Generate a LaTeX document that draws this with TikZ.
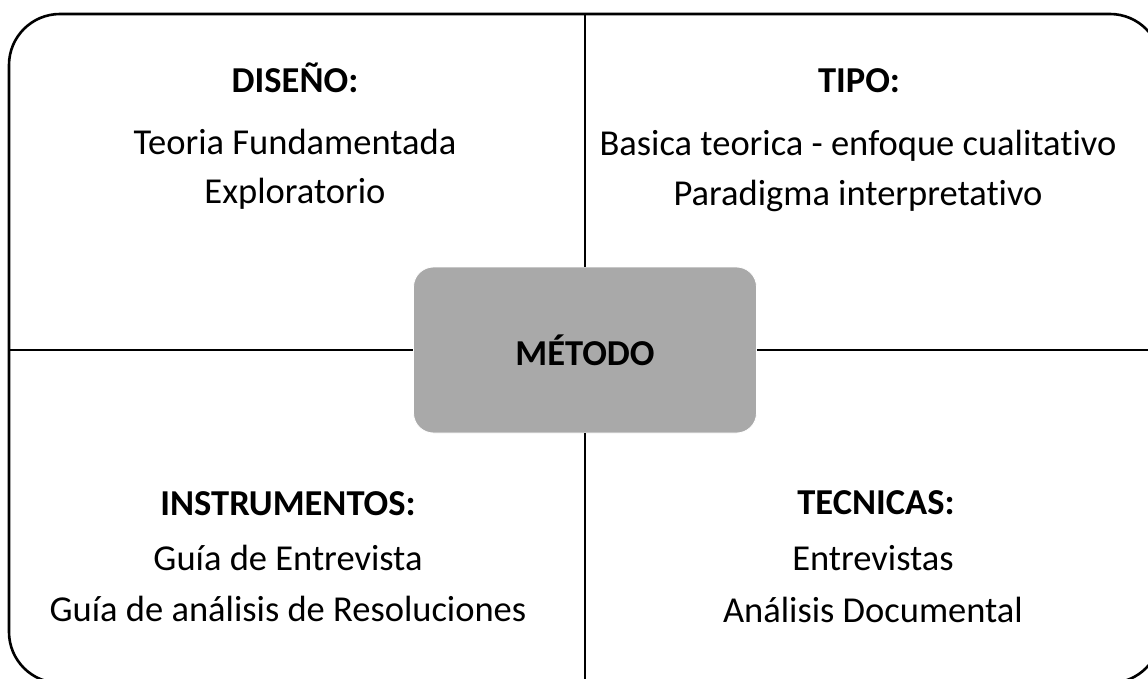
\documentclass[tikz,border=0pt]{standalone}
\usepackage{fontspec}
\setmainfont[Ligatures=NoCommon, RawFeature={-liga}]{Carlito}
\definecolor{boxgray}{RGB}{169,169,169}
\tikzset{
  head/.style={anchor=base, font=\fontsize{36.5}{42}\selectfont\bfseries},
  body/.style={anchor=base, font=\fontsize{36.5}{42}\selectfont},
  divider/.style={line width=2.2pt, black},
  center/.style={fill=boxgray, draw=white, line width=0.8pt, rounded corners=20pt,
    minimum width=343pt, minimum height=166pt, font=\fontsize{36.5}{42}\selectfont\bfseries}
}
\begin{document}
\begin{tikzpicture}[x=1pt,y=-1pt]
\useasboundingbox (0,0) rectangle (1148,679);
\clip (0,0) rectangle (1148,679);
\draw[line width=2.6pt, rounded corners=51pt] (9,14) rectangle (1161,683);
\coordinate (top) at (585,14);
\coordinate (bot) at (585,683);
\coordinate (lft) at (9,350);
\coordinate (rgt) at (1161,350);
\node[center] (m) at (585,350) {MÉTODO};
\draw[divider] (top) -- (m.north);
\draw[divider] (m.south) -- (bot);
\draw[divider] (lft) -- (m.west);
\draw[divider] (m.east) -- (rgt);
% top-left
\node[head] (d1) at (295,93) {DISEÑO:};
\node[body] (d2) at (295,155) {Teoria Fundamentada};
\node[body] (d3) at (295,204) {Exploratorio};
% top-right
\node[head] (t1) at (859,93) {TIPO:};
\node[body] (t2) at (858,156) {Basica teorica - enfoque cualitativo};
\node[body] (t3) at (858,206) {Paradigma interpretativo};
% bottom-left
\node[head] (i1) at (288,515) {INSTRUMENTOS:};
\node[body] (i2) at (288,570) {Guía de Entrevista};
\node[body] (i3) at (288,621) {Guía de análisis de Resoluciones};
% bottom-right
\node[head] (c1) at (876,514) {TECNICAS:};
\node[body] (c2) at (873,570) {Entrevistas};
\node[body] (c3) at (873,622) {Análisis Documental};
\end{tikzpicture}
\end{document}
